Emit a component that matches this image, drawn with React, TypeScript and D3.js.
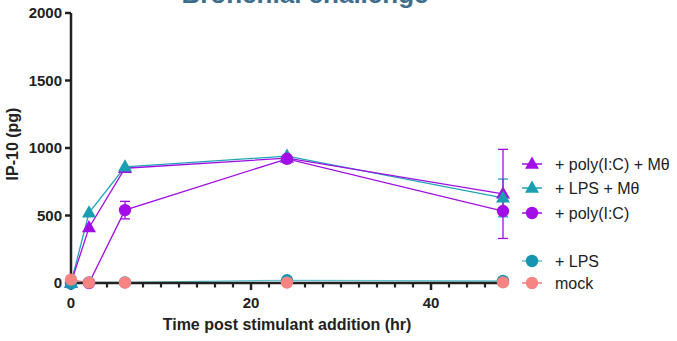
import React from "react";
import * as d3 from "d3";

const times = [0, 2, 6, 24, 48];
const polyICMacro = [0, 410, 850, 925, 660];
const polyICMacroErr = [0, 0, 0, 0, 330];
const lpsMacro = [0, 520, 860, 940, 630];
const lpsMacroErr = [0, 0, 0, 0, 140];
const polyIC = [0, 0, 540, 920, 533];
const polyICErr = [0, 0, 65, 0, 0];
const lps = [-5, 5, 5, 20, 15];
const mock = [25, 3, 3, 3, 5];

const xTicks = [0, 20, 40];
const yTicks = [0, 500, 1000, 1500, 2000];
const legendLabels = ["+ poly(I:C) + Mθ", "+ LPS + Mθ", "+ poly(I:C)", "+ LPS", "mock"];

type S = { name: string; vals: number[]; err: number[]; shape: "tri" | "circ"; fill: string; line: string };
const series: S[] = [
  { name: legendLabels[4], vals: mock, err: [0, 0, 0, 0, 0], shape: "circ", fill: "#f78383", line: "#f08080" },
  { name: legendLabels[3], vals: lps, err: [0, 0, 0, 0, 0], shape: "circ", fill: "#1595b2", line: "#5fc4d0" },
  { name: legendLabels[2], vals: polyIC, err: polyICErr, shape: "circ", fill: "#a20ee6", line: "#a20ee6" },
  { name: legendLabels[1], vals: lpsMacro, err: lpsMacroErr, shape: "tri", fill: "#1a9eb2", line: "#1fa5b5" },
  { name: legendLabels[0], vals: polyICMacro, err: polyICMacroErr, shape: "tri", fill: "#a20ee6", line: "#a20ee6" },
];

const x = d3.scaleLinear().domain([0, 48]).range([71, 503]);
const y = d3.scaleLinear().domain([0, 2000]).range([283, 13]);
const line = d3.line<number>();

function Marker({ shape, cx, cy, fill }: { shape: string; cx: number; cy: number; fill: string }) {
  if (shape === "circ") return <circle cx={cx} cy={cy} r={6.2} fill={fill} />;
  const s = 14;
  const h = s * 0.87;
  return <path d={`M${cx},${cy - h * 0.62}L${cx + s / 2},${cy + h * 0.38}L${cx - s / 2},${cy + h * 0.38}Z`} fill={fill} />;
}

export default function App() {
  const minorTicks = d3.range(0, 49, 2).filter((t) => !xTicks.includes(t));
  const legendRows = [
    { s: series[4], y: 164 },
    { s: series[3], y: 188 },
    { s: series[2], y: 213 },
    { s: series[1], y: 261 },
    { s: series[0], y: 283 },
  ];
  const font = "'Liberation Sans', Arial, sans-serif";
  return (
    <svg width={677} height={341} style={{ position: "absolute", left: 0, top: 0 }} fontFamily={font}>
      <text x={305} y={3} textAnchor="middle" fontSize={26} fontWeight="bold" fill="#3d6d8d">Bronchial challenge</text>
      {/* error bars */}
      {series.map((s) =>
        s.vals.map((v, i) =>
          s.err[i] > 0 ? (
            <g key={s.name + "e" + i} stroke={s.line} strokeWidth={1.3}>
              <line x1={x(times[i])} x2={x(times[i])} y1={y(v - s.err[i])} y2={y(v + s.err[i])} />
              <line x1={x(times[i]) - 5} x2={x(times[i]) + 5} y1={y(v - s.err[i])} y2={y(v - s.err[i])} />
              <line x1={x(times[i]) - 5} x2={x(times[i]) + 5} y1={y(v + s.err[i])} y2={y(v + s.err[i])} />
            </g>
          ) : null
        )
      )}
      {/* lines */}
      {series.map((s) => (
        <path key={s.name + "l"} d={line(s.vals.map((v, i) => [x(times[i]), y(v)]) as any) || ""} fill="none" stroke={s.line} strokeWidth={1.3} />
      ))}
      {/* axes */}
      <g stroke="#222" fill="none">
        <line x1={x(0)} x2={x(0)} y1={y(2000)} y2={y(0) + 1.5} strokeWidth={2.5} />
        <line x1={x(0) - 1.2} x2={x(48)} y1={y(0)} y2={y(0)} strokeWidth={2.5} />
        {yTicks.map((t) => (
          <line key={"yt" + t} x1={x(0) - 6} x2={x(0)} y1={y(t)} y2={y(t)} strokeWidth={2.5} />
        ))}
        {xTicks.map((t) => (
          <line key={"xt" + t} x1={x(t)} x2={x(t)} y1={y(0)} y2={y(0) + 7} strokeWidth={2.5} />
        ))}
        {minorTicks.map((t) => (
          <line key={"xm" + t} x1={x(t)} x2={x(t)} y1={y(0)} y2={y(0) + 4.5} strokeWidth={2.2} />
        ))}
      </g>
      {yTicks.map((t) => (
        <text key={"yl" + t} x={x(0) - 9} y={y(t) + 5} textAnchor="end" fontSize={15} fontWeight="bold" fill="#222">{t}</text>
      ))}
      {xTicks.map((t) => (
        <text key={"xl" + t} x={x(t)} y={308} textAnchor="middle" fontSize={15} fontWeight="bold" fill="#222">{t}</text>
      ))}
      <text x={287} y={330} textAnchor="middle" fontSize={16} fontWeight="bold" fill="#222">Time post stimulant addition (hr)</text>
      <text transform={`translate(18,144) rotate(-90)`} textAnchor="middle" fontSize={16} fontWeight="bold" fill="#222">IP-10 (pg)</text>
      {/* markers */}
      {series.slice().reverse().map((s) =>
        s.vals.map((v, i) => <Marker key={s.name + "m" + i} shape={s.shape} cx={x(times[i])} cy={y(v)} fill={s.fill} />)
      )}
      {/* legend */}
      {legendRows.map((r) => (
        <g key={"lg" + r.s.name}>
          <line x1={522} x2={542} y1={r.y} y2={r.y} stroke={r.s.line} strokeWidth={1.5} />
          <Marker shape={r.s.shape} cx={532} cy={r.y} fill={r.s.fill} />
          <text x={555} y={r.y + 5.5} fontSize={16} fill="#222">{r.s.name}</text>
        </g>
      ))}
    </svg>
  );
}
